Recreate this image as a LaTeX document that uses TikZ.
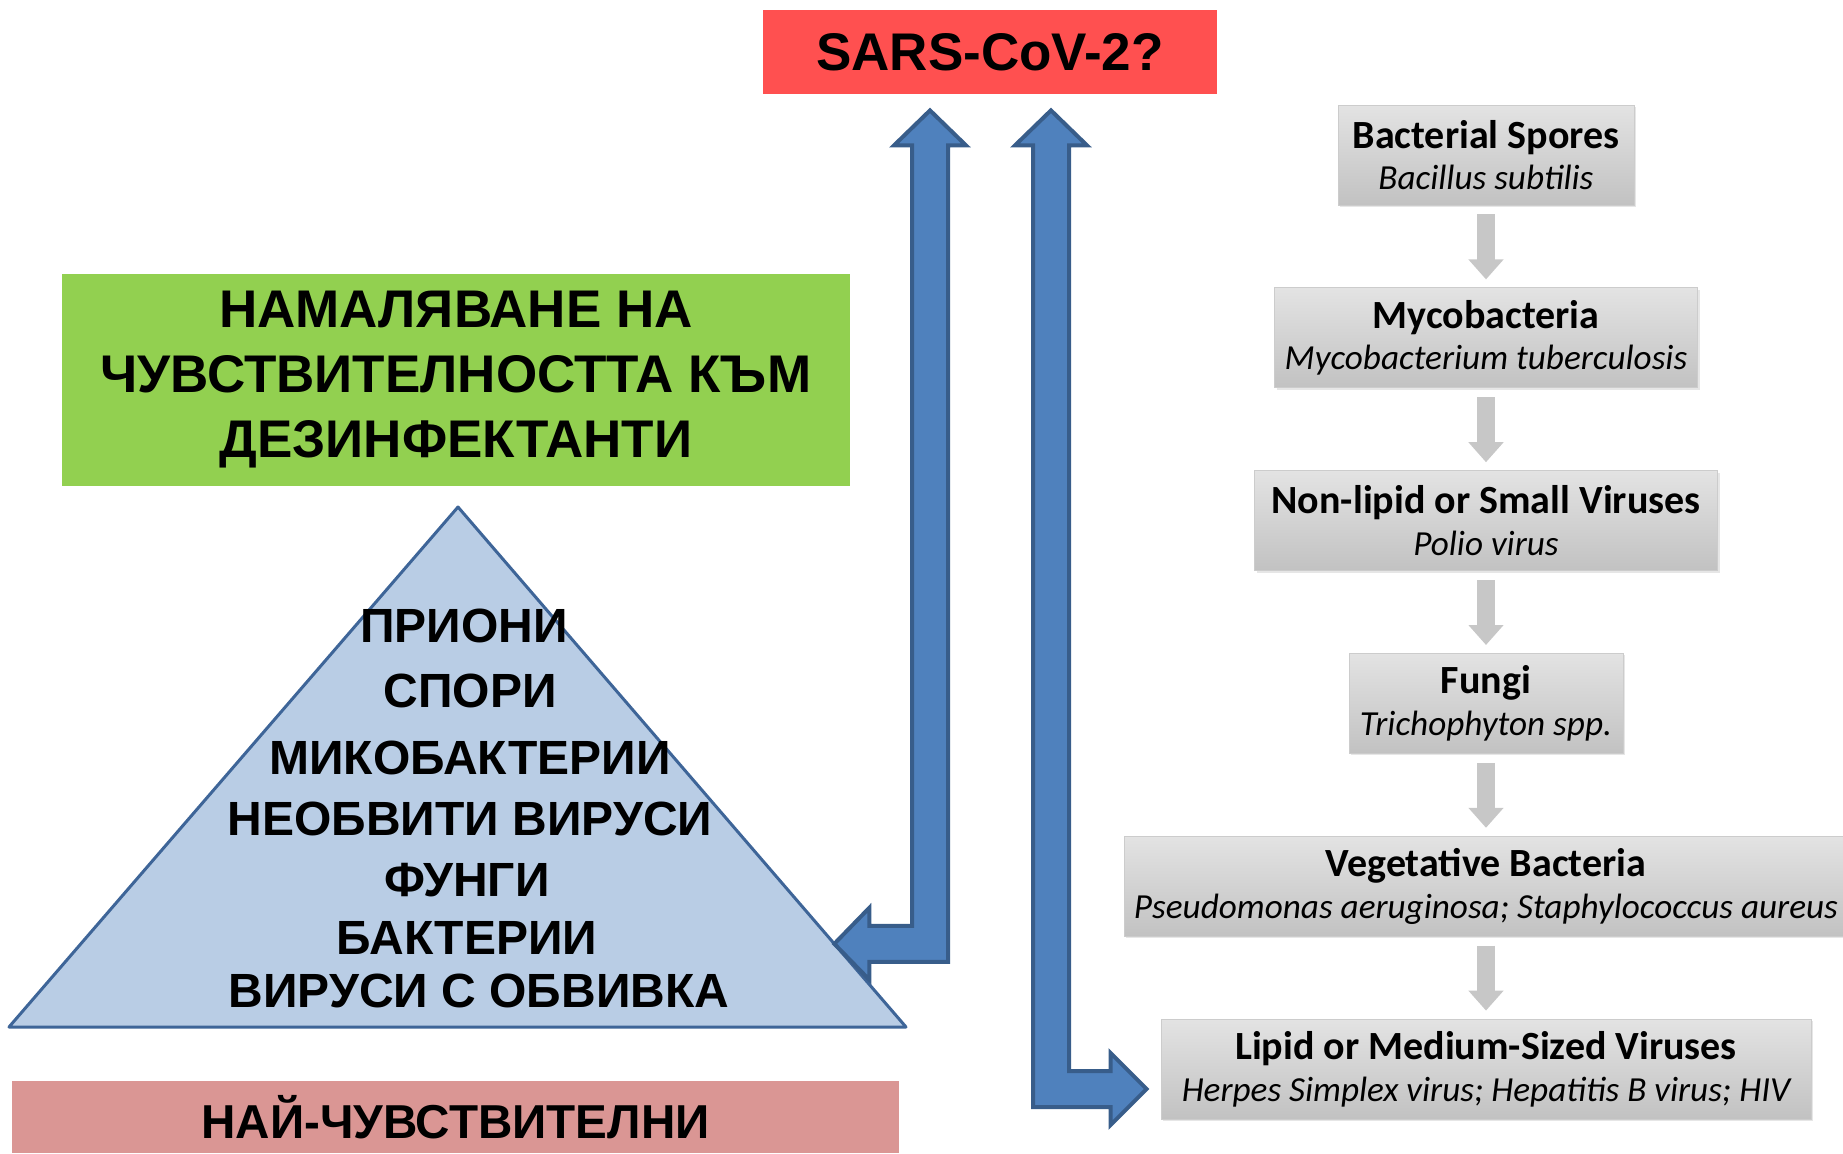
\documentclass[tikz,border=0pt]{standalone}
\usepackage{fontspec}
\setmainfont{Liberation Sans}
\newfontfamily\calib{Carlito}
\usetikzlibrary{arrows.meta,positioning,shadows,calc}
\definecolor{Gc}{HTML}{92D050}
\definecolor{Rc}{HTML}{FF5050}
\definecolor{Pc}{HTML}{DA9694}
\definecolor{Tc}{HTML}{B9CDE5}
\definecolor{Te}{HTML}{3E6598}
\definecolor{Bc}{HTML}{4F81BD}
\definecolor{Be}{HTML}{385D8A}
\tikzset{
  band/.style={inner sep=0pt, align=center, font=\bfseries},
  tier/.style={inner sep=0pt, font=\fontsize{24}{28}\selectfont\bfseries},
  orgbox/.style={draw=black!20, top color=black!11, bottom color=black!24,
    inner sep=0pt, minimum height=50pt, align=center, font=\calib,
    drop shadow={shadow xshift=1pt, shadow yshift=-1pt, opacity=0.2}},
  flow/.style={line width=9pt, draw=black!22, -{Triangle[width=17pt,length=10pt]},
    shorten <=4.5pt, shorten >=4pt},
  fat/.style={fill=Bc, draw=Be, line width=2pt, line join=miter},
}
\newcommand{\orgtxt}[2]{{\fontsize{20}{22}\selectfont\bfseries #1}\\[4.5pt]%
  {\fontsize{17.6}{20}\selectfont\itshape #2}}

\begin{document}
\begin{tikzpicture}[x=0.5pt, y=-0.5pt]
  \useasboundingbox (0,0) rectangle (1843,1153);
  % left side
  \node[band, fill=Rc, minimum width=227pt, minimum height=42pt,
    font=\fontsize{26.5}{30}\selectfont\bfseries] (sars) at (990,52) {SARS-CoV-2?};
  \node[band, fill=Gc, minimum width=394pt, minimum height=106pt,
    font=\fontsize{26.5}{32.5}\selectfont\bfseries] (reduce) at (456,380)
    {НАМАЛЯВАНЕ НА\\ ЧУВСТВИТЕЛНОСТТА КЪМ\\ ДЕЗИНФЕКТАНТИ};
  \node[band, fill=Pc, minimum width=443.5pt, minimum height=36pt,
    font=\fontsize{23.8}{28}\selectfont\bfseries] (most) at (455.5,1117) {НАЙ-ЧУВСТВИТЕЛНИ};
  \path (458,507) coordinate (pa) (9,1027) coordinate (pl) (906,1027) coordinate (pr);
  \filldraw[fill=Tc, draw=Te, line width=1.5pt, line join=round] (pa) -- (pr) -- (pl) -- cycle;
  \foreach \xx/\yy/\tx in {464/626/ПРИОНИ, 470/691/СПОРИ, 470/758/МИКОБАКТЕРИИ,
      470/819/НЕОБВИТИ ВИРУСИ, 467/880/ФУНГИ, 467/938/БАКТЕРИИ, 479/991/ВИРУСИ С ОБВИВКА}
    \node[tier] (t\yy) at (\xx,\yy) {\tx};
  % right side
  \node[orgbox, minimum width=148pt] (spores) at (1486,155)
    {\orgtxt{Bacterial Spores}{Bacillus subtilis}};
  \node[orgbox, minimum width=211.5pt, below=41pt of spores] (myco)
    {\orgtxt{Mycobacteria}{Mycobacterium tuberculosis}};
  \node[orgbox, minimum width=231.5pt, below=41pt of myco] (nonlip)
    {\orgtxt{Non-lipid or Small Viruses}{Polio virus}};
  \node[orgbox, minimum width=137pt, below=41pt of nonlip] (fungi)
    {\orgtxt{Fungi}{Trichophyton spp.}};
  \node[orgbox, minimum width=362pt, below=41pt of fungi] (veg)
    {\orgtxt{Vegetative Bacteria}{Pseudomonas aeruginosa; Staphylococcus aureus}};
  \node[orgbox, minimum width=325pt, below=41pt of veg] (lipid)
    {\orgtxt{Lipid or Medium-Sized Viruses}{Herpes Simplex virus; Hepatitis B virus; HIV}};
  \draw[flow] (spores) -- (myco);
  \draw[flow] (myco) -- (nonlip);
  \draw[flow] (nonlip) -- (fungi);
  \draw[flow] (fungi) -- (veg);
  \draw[flow] (veg) -- (lipid);
  % blue arrows
  \coordinate (lt) at ($(sars.south)+(-60,16)$);
  \coordinate (lb) at ($(pa)!0.84!(pr)$);
  \coordinate (rt) at ($(sars.south)+(61,16)$);
  \coordinate (rb) at ($(lipid.west)+(-14,20)$);
  \filldraw[fat] (lt) -- ++(36,35) -- ++(-18,0) |- ($(lb)+(35,18)$) -- ++(0,18) -- (lb)
    -- ++(35,-36) -- ++(0,18) -| ($(lt)+(-18,35)$) -- ++(-18,0) -- cycle;
  \filldraw[fat] (rt) -- ++(36,35) -- ++(-18,0) |- ($(rb)+(-36,-18)$) -- ++(0,-18) -- (rb)
    -- ++(-36,36) -- ++(0,-18) -| ($(rt)+(-18,35)$) -- ++(-18,0) -- cycle;
\end{tikzpicture}
\end{document}
